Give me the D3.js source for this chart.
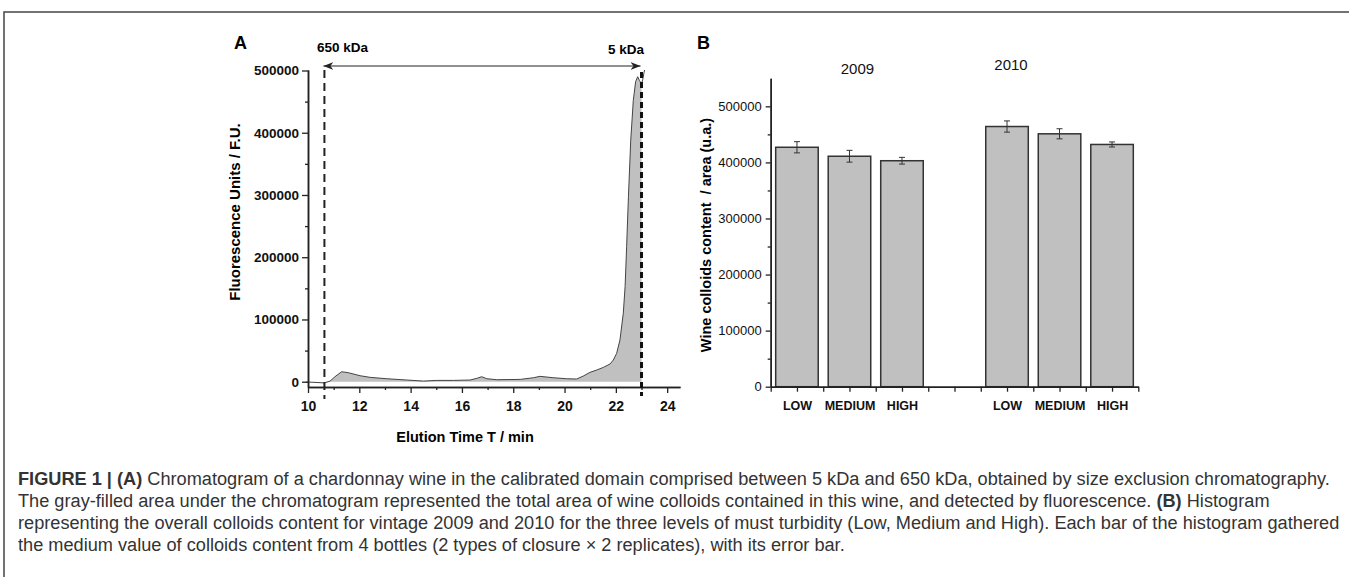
<!DOCTYPE html>
<html>
<head>
<meta charset="utf-8">
<script src="https://cdn.jsdelivr.net/npm/d3@7"></script>
<style>
  body { margin: 0; background: #fff; }
  svg { display: block; font-family: 'Liberation Sans', Arial, sans-serif; }
</style>
</head>
<body>
<div class="outer-container"></div>
<script>
// panel A: chromatogram
const elutionTime = [9.9, 10.0, 10.47, 10.64, 10.86, 11.05, 11.31, 11.57, 12.03, 12.42, 13.07, 13.85,
  14.5, 15.02, 15.67, 16.32, 16.58, 16.77, 16.97, 17.36, 18.27, 18.79, 19.04, 19.56, 20.08, 20.47,
  20.73, 20.99, 21.25, 21.51, 21.77, 21.9, 22.03, 22.16, 22.29, 22.36, 22.42, 22.49, 22.58, 22.68,
  22.77, 22.85, 22.92, 23.0, 23.05, 23.1, 23.13]
const fluorescence = [-1000, -500, -1500, -2000, 1000, 8000, 16000, 14500, 9600, 7000, 4800, 2700,
  1000, 2100, 2100, 2700, 5400, 8000, 4800, 3200, 3700, 6400, 8600, 6400, 4800, 4300,
  9100, 15000, 18700, 23000, 28400, 34800, 45500, 67000, 110000, 153000, 217000, 297000, 388000, 452000,
  482000, 490000, 484000, 478000, 486000, 497000, 503000]
const fluoTicks = [0, 100000, 200000, 300000, 400000, 500000]
const timeTicks = [10, 12, 14, 16, 18, 20, 22, 24]
const cutLow = 10.64   // 650 kDa
const cutHigh = 23.0   // 5 kDa

// panel B: colloids content
const years = ['2009', '2010']
const levels = ['LOW', 'MEDIUM', 'HIGH']
const colloids2009 = [427000, 411000, 403000]
const colloids2010 = [464000, 451000, 432000]
const error2009 = [10000, 10500, 6000]
const error2010 = [10000, 9000, 4500]
const areaTicks = [0, 100000, 200000, 300000, 400000, 500000]

const captionLines = [
  [['FIGURE 1 | (A)', true], [' Chromatogram of a chardonnay wine in the calibrated domain comprised between 5 kDa and 650 kDa, obtained by size exclusion chromatography.', false]],
  [['The gray-filled area under the chromatogram represented the total area of wine colloids contained in this wine, and detected by fluorescence. ', false], ['(B)', true], [' Histogram', false]],
  [['representing the overall colloids content for vintage 2009 and 2010 for the three levels of must turbidity (Low, Medium and High). Each bar of the histogram gathered', false]],
  [['the medium value of colloids content from 4 bottles (2 types of closure \u00d7 2 replicates), with its error bar.', false]]
]

const w = 1349
const h = 577
const ink = '#222'

const svg = d3.select('.outer-container')
              .append('svg')
              .attr('width', w)
              .attr('height', h)

// frame
svg.append('path')
   .attr('d', 'M4,' + h + ' L4,12 L' + w + ',12')
   .attr('fill', 'none')
   .attr('stroke', '#444')
   .attr('stroke-width', 1.5)

const defs = svg.append('defs')
defs.append('marker')
    .attr('id', 'head')
    .attr('viewBox', '0 0 10 8')
    .attr('refX', 10).attr('refY', 4)
    .attr('markerWidth', 10).attr('markerHeight', 8)
    .attr('markerUnits', 'userSpaceOnUse')
    .attr('orient', 'auto-start-reverse')
    .append('path')
    .attr('d', 'M0,0 L10,4 L0,8 L3,4 z')
    .attr('fill', ink)

function styleAxis(g) {
  g.select('.domain').attr('stroke', ink).attr('stroke-width', 1.5)
  g.selectAll('.tick line').attr('stroke', ink).attr('stroke-width', 1.3)
  g.selectAll('.tick text').attr('fill', '#111')
}

// ---------- panel A ----------
const xA = d3.scaleLinear().domain([10, 24.5]).range([308, 680])
const yA = d3.scaleLinear().domain([-8500, 500800]).range([387, 70])

const clip = defs.append('clipPath').attr('id', 'clipA')
clip.append('rect').attr('x', 300).attr('y', 70).attr('width', 380).attr('height', 330)

const pts = elutionTime.map((t, i) => [t, fluorescence[i]])
const filled = pts.filter(d => d[0] >= cutLow && d[0] <= cutHigh)

const area = d3.area()
               .x(d => xA(d[0]))
               .y0(yA(0))
               .y1(d => yA(Math.max(0, d[1])))
const line = d3.line()
               .x(d => xA(d[0]))
               .y(d => yA(d[1]))

const plotA = svg.append('g').attr('clip-path', 'url(#clipA)')
plotA.append('path')
     .datum(filled)
     .attr('d', area)
     .attr('fill', '#c0c0c0')
plotA.append('path')
     .datum(pts)
     .attr('d', line)
     .attr('fill', 'none')
     .attr('stroke', '#444')
     .attr('stroke-width', 1)

const xAxisA = d3.axisBottom(xA).tickValues(timeTicks).tickSize(6).tickPadding(8).tickSizeOuter(0)
const xMinorA = d3.axisBottom(xA).tickValues(d3.range(11, 24, 2)).tickSize(3).tickFormat('').tickSizeOuter(0)
const yAxisA = d3.axisLeft(yA).tickValues(fluoTicks).tickSize(6).tickPadding(3).tickFormat(d3.format('d')).tickSizeOuter(0)
const yMinorA = d3.axisLeft(yA).tickValues(d3.range(50000, 500000, 100000)).tickSize(3).tickFormat('').tickSizeOuter(0)

svg.append('g').attr('transform', 'translate(0,387)').call(xMinorA).call(styleAxis)
svg.append('g').attr('transform', 'translate(0,387)').call(xAxisA).call(styleAxis)
   .selectAll('text').attr('font-size', 14).attr('font-weight', 'bold')
svg.append('g').attr('transform', 'translate(308,0)').call(yMinorA).call(styleAxis)
svg.append('g').attr('transform', 'translate(308,0)').call(yAxisA).call(styleAxis)
   .selectAll('text').attr('font-size', 13.5).attr('font-weight', 'bold')

// cut-off lines
svg.append('line')
   .attr('x1', xA(cutLow)).attr('x2', xA(cutLow))
   .attr('y1', 70).attr('y2', 399)
   .attr('stroke', ink).attr('stroke-width', 2).attr('stroke-dasharray', '8,5')
svg.append('line')
   .attr('x1', xA(cutHigh)).attr('x2', xA(cutHigh))
   .attr('y1', 72).attr('y2', 396)
   .attr('stroke', '#111').attr('stroke-width', 3).attr('stroke-dasharray', '6,4')

svg.append('line')
   .attr('x1', xA(cutLow) - 1).attr('x2', xA(cutHigh) - 1)
   .attr('y1', 66).attr('y2', 66)
   .attr('stroke', ink).attr('stroke-width', 1)
   .attr('marker-start', 'url(#head)')
   .attr('marker-end', 'url(#head)')

svg.append('text').attr('x', 317).attr('y', 51.5)
   .attr('font-size', 13.5).attr('font-weight', 'bold').text('650 kDa')
svg.append('text').attr('x', 644).attr('y', 54).attr('text-anchor', 'end')
   .attr('font-size', 13.5).attr('font-weight', 'bold').text('5 kDa')

svg.append('text').attr('x', 234).attr('y', 49)
   .attr('font-size', 18).attr('font-weight', 'bold').text('A')

svg.append('text')
   .attr('transform', 'translate(240,212) rotate(-90)')
   .attr('text-anchor', 'middle')
   .attr('font-size', 15).attr('font-weight', 'bold')
   .text('Fluorescence Units / F.U.')

svg.append('text').attr('x', 465).attr('y', 442).attr('text-anchor', 'middle')
   .attr('font-size', 14.5).attr('font-weight', 'bold')
   .text('Elution Time T / min')

// ---------- panel B ----------
const xB = d3.scaleLinear().domain([0.5, 7.5]).range([770.7, 1138.3])
const yB = d3.scaleLinear().domain([0, 550000]).range([386.7, 78.3])
const bw = (xB(1) - xB(0)) * 0.81

const bars = []
years.forEach((y, yi) => {
  const vals = yi === 0 ? colloids2009 : colloids2010
  const errs = yi === 0 ? error2009 : error2010
  levels.forEach((l, li) => {
    bars.push({ year: y, level: l, pos: yi * 4 + li + 1, value: vals[li], err: errs[li] })
  })
})

svg.selectAll('rect.bar')
   .data(bars)
   .enter()
   .append('rect')
   .attr('class', 'bar')
   .attr('x', d => xB(d.pos) - bw / 2)
   .attr('y', d => yB(d.value))
   .attr('width', bw)
   .attr('height', d => yB(0) - yB(d.value))
   .attr('fill', '#c0c0c0')
   .attr('stroke', '#333')
   .attr('stroke-width', 1.5)

const eb = svg.selectAll('g.err')
              .data(bars)
              .enter()
              .append('g')
              .attr('class', 'err')
              .attr('stroke', '#333')
              .attr('stroke-width', 1)
eb.append('line')
  .attr('x1', d => xB(d.pos)).attr('x2', d => xB(d.pos))
  .attr('y1', d => yB(d.value - d.err)).attr('y2', d => yB(d.value + d.err))
eb.append('line')
  .attr('x1', d => xB(d.pos) - 3).attr('x2', d => xB(d.pos) + 3)
  .attr('y1', d => yB(d.value + d.err)).attr('y2', d => yB(d.value + d.err))
eb.append('line')
  .attr('x1', d => xB(d.pos) - 3).attr('x2', d => xB(d.pos) + 3)
  .attr('y1', d => yB(d.value - d.err)).attr('y2', d => yB(d.value - d.err))

const slotLabel = p => {
  const b = bars.find(d => d.pos === p)
  return b ? b.level : ''
}
const xAxisB = d3.axisBottom(xB).tickValues(d3.range(1, 8)).tickSize(5).tickPadding(9)
                 .tickFormat(slotLabel).tickSizeOuter(0)
const xMinorB = d3.axisBottom(xB).tickValues(d3.range(0.5, 8, 1)).tickSize(5).tickFormat('').tickSizeOuter(0)
const yAxisB = d3.axisLeft(yB).tickValues(areaTicks).tickSize(5).tickPadding(4).tickFormat(d3.format('d')).tickSizeOuter(0)
const yMinorB = d3.axisLeft(yB).tickValues(d3.range(50000, 550000, 100000)).tickSize(3).tickFormat('').tickSizeOuter(0)

svg.append('g').attr('transform', 'translate(0,386.7)').call(xMinorB).call(styleAxis)
svg.append('g').attr('transform', 'translate(0,386.7)').call(xAxisB).call(styleAxis)
   .selectAll('text').attr('font-size', 12.5).attr('font-weight', 'bold')
svg.append('g').attr('transform', 'translate(770.7,0)').call(yMinorB).call(styleAxis)
svg.append('g').attr('transform', 'translate(770.7,0)').call(yAxisB).call(styleAxis)
   .selectAll('text').attr('font-size', 13)

// year headers sit a little off the group centres in the original
const yearX = [xB(2) + 8, xB(5) + 4]
const yearY = [74, 70]
years.forEach((y, yi) => {
  svg.append('text')
     .attr('x', yearX[yi])
     .attr('y', yearY[yi])
     .attr('text-anchor', 'middle')
     .attr('font-size', 15)
     .attr('fill', '#111')
     .text(y)
})

svg.append('text').attr('x', 697).attr('y', 49)
   .attr('font-size', 18).attr('font-weight', 'bold').text('B')

svg.append('text')
   .attr('transform', 'translate(711,235) rotate(-90)')
   .attr('text-anchor', 'middle')
   .attr('font-size', 14.5).attr('font-weight', 'bold')
   .attr('xml:space', 'preserve')
   .text('Wine colloids content  / area (u.a.)')

// ---------- caption ----------
const cap = svg.append('g').attr('fill', '#333')
const capTexts = captionLines.map((parts, i) => {
  const t = cap.append('text')
               .attr('x', 18)
               .attr('y', 485 + i * 22)
               .attr('font-size', 16)
               .attr('xml:space', 'preserve')
  parts.forEach(p => {
    t.append('tspan').attr('font-weight', p[1] ? 'bold' : 'normal').text(p[0])
  })
  return t
})
const natural = capTexts[0].node().getComputedTextLength()
const capSize = 16 * 1313 / natural
capTexts.forEach(t => t.attr('font-size', capSize))
</script>
</body>
</html>
